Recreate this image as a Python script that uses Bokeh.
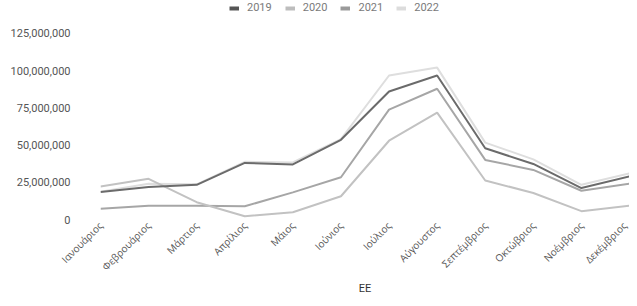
from bokeh.plotting import figure
from bokeh.models import Range1d, FixedTicker, NumeralTickFormatter, Legend, LegendItem, ColumnDataSource
from bokeh.embed import file_html
from bokeh.resources import INLINE
import math

months = ["Ιανουάριος", "Φεβρουάριος", "Μάρτιος", "Απρίλιος", "Μάιος", "Ιούνιος",
          "Ιούλιος", "Αύγουστος", "Σεπτέμβριος", "Οκτώβριος", "Νοέμβριος", "Δεκέμβριος"]
years = ["2019", "2020", "2021", "2022"]
v2019 = [18.4e6, 21.8e6, 23.3e6, 38.0e6, 37.0e6, 53.5e6, 86.0e6, 96.7e6, 47.8e6, 37.3e6, 21.1e6, 28.9e6]
v2020 = [22.2e6, 27.3e6, 11.6e6, 2.2e6, 4.9e6, 15.6e6, 52.9e6, 71.8e6, 26.2e6, 17.8e6, 5.6e6, 9.3e6]
v2021 = [7.3e6, 9.3e6, 9.3e6, 8.9e6, 18.2e6, 28.4e6, 73.8e6, 87.8e6, 40.0e6, 33.3e6, 19.3e6, 24.0e6]
v2022 = [18.6e6, 24.0e6, 23.6e6, 38.7e6, 38.3e6, 54.0e6, 96.7e6, 102.0e6, 51.6e6, 40.4e6, 23.3e6, 31.0e6]
y_ticks = [0, 25e6, 50e6, 75e6, 100e6, 125e6]
x_title = "EE"

series = {"2019": v2019, "2020": v2020, "2021": v2021, "2022": v2022}
colors = {"2019": "#6b6b6b", "2020": "#c2c2c2", "2021": "#a6a6a6", "2022": "#dedede"}
legend_colors = {"2019": "#555555", "2020": "#bdbdbd", "2021": "#9a9a9a", "2022": "#dcdcdc"}

xs = list(range(len(months)))

# frame spans the full top area (legend sits inside it, above the 125M tick)
p = figure(width=629, height=298, output_backend="svg", toolbar_location=None,
           x_range=Range1d(0, len(months) - 1), y_range=Range1d(0, 147.06e6),
           min_border_left=100, min_border_right=0, min_border_top=0, min_border_bottom=78)
p.outline_line_color = None
p.grid.visible = False
p.background_fill_color = "white"
p.border_fill_color = "white"

for yr in ["2022", "2021", "2020", "2019"]:
    src = ColumnDataSource(dict(x=xs, y=series[yr]))
    p.line("x", "y", source=src, line_color=colors[yr], line_width=2)

items = []
for yr in years:
    r = p.line(x=[0, 0], y=[float("nan"), float("nan")], line_color=legend_colors[yr], line_width=4)
    items.append(LegendItem(label=yr, renderers=[r]))

legend = Legend(items=items, orientation="horizontal", location=(129, 205),
                glyph_width=10, glyph_height=10, label_height=10, label_standoff=8,
                spacing=13, padding=0, margin=0, border_line_color=None,
                background_fill_alpha=0, label_text_font="Roboto",
                label_text_font_size="11px", label_text_color="#7a7a7a")
p.add_layout(legend, "center")

xa = p.xaxis[0]
xa.ticker = FixedTicker(ticks=xs)
xa.major_label_overrides = {i: m for i, m in enumerate(months)}
xa.major_label_orientation = math.pi / 4
xa.axis_line_color = None
xa.major_tick_line_color = None
xa.minor_tick_line_color = None
xa.major_tick_out = 0
xa.major_label_standoff = 4
xa.major_label_text_font = "Open Sans"
xa.major_label_text_font_size = "10px"
xa.major_label_text_color = "#555555"
xa.axis_label = x_title
xa.axis_label_text_font = "Roboto"
xa.axis_label_text_font_style = "normal"
xa.axis_label_text_font_size = "11px"
xa.axis_label_text_color = "#333333"
xa.axis_label_standoff = 1

ya = p.yaxis[0]
ya.ticker = FixedTicker(ticks=y_ticks)
ya.formatter = NumeralTickFormatter(format="0,0")
ya.axis_line_color = None
ya.major_tick_line_color = None
ya.minor_tick_line_color = None
ya.major_tick_out = 0
ya.major_label_standoff = 30
ya.major_label_text_font = "Roboto"
ya.major_label_text_font_size = "11px"
ya.major_label_text_color = "#555555"

open("out.html", "w").write(file_html(p, INLINE))
